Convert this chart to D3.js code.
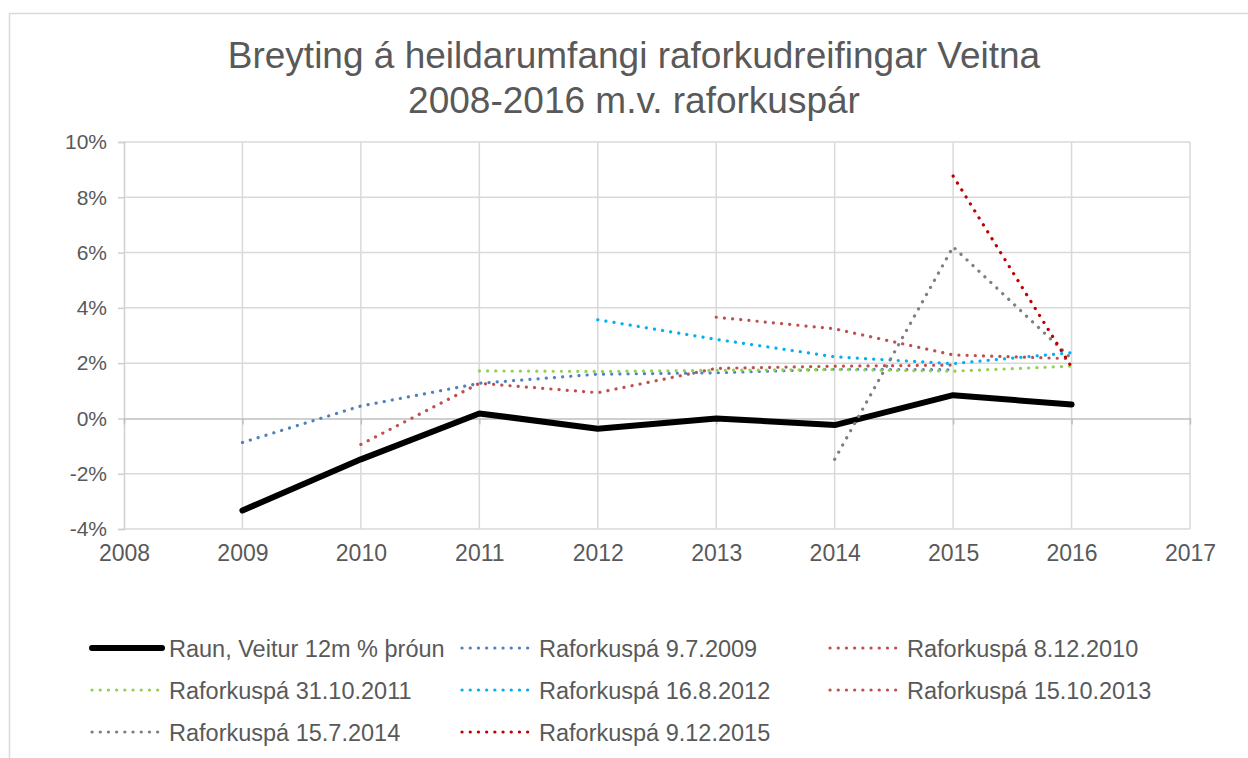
<!DOCTYPE html>
<html><head><meta charset="utf-8">
<script src="https://cdn.jsdelivr.net/npm/d3@7"></script>
<style>body{margin:0;background:#fff}svg{display:block}text{font-family:"Liberation Sans",Arial,sans-serif;fill:#595959}</style>
</head><body><svg id="c" width="1248" height="758"></svg>
<script>
const titleLines = ["Breyting á heildarumfangi raforkudreifingar Veitna", "2008-2016 m.v. raforkuspár"];
const xTicks = [2008, 2009, 2010, 2011, 2012, 2013, 2014, 2015, 2016, 2017];
const yTicks = [-0.04, -0.02, 0, 0.02, 0.04, 0.06, 0.08, 0.10];
const seriesNames = ["Raun, Veitur 12m % þróun", "Raforkuspá 9.7.2009", "Raforkuspá 8.12.2010", "Raforkuspá 31.10.2011", "Raforkuspá 16.8.2012", "Raforkuspá 15.10.2013", "Raforkuspá 15.7.2014", "Raforkuspá 9.12.2015"];
const seriesStart = [2009, 2009, 2010, 2011, 2012, 2013, 2014, 2015];
const raun = [-3.33, -1.48, 0.18, -0.37, 0.0, -0.24, 0.84, 0.50];
const spa2009 = [-0.87, 0.45, 1.27, 1.60, 1.65, 1.78, 1.76];
const spa2010 = [-0.94, 1.27, 0.93, 1.81, 1.89, 1.93];
const spa2011 = [1.72, 1.70, 1.74, 1.77, 1.71, 1.89];
const spa2012 = [3.57, 2.86, 2.23, 1.98, 2.38];
const spa2013 = [3.66, 3.24, 2.30, 2.16];
const spa2014 = [-1.48, 6.21, 2.16];
const spa2015 = [8.77, 1.86];
const seriesValues = [raun, spa2009, spa2010, spa2011, spa2012, spa2013, spa2014, spa2015];
const seriesColors = ["#000000", "#4F81BD", "#C0504D", "#92D050", "#00B0F0", "#C0504D", "#7F7F7F", "#C00000"];

const svg = d3.select("#c");
// chart frame
svg.append("rect").attr("x", 9.5).attr("y", 13.5).attr("width", 1300).attr("height", 900)
  .attr("fill", "none").attr("stroke", "#D9D9D9").attr("stroke-width", 1.5);

const x = d3.scaleLinear().domain([2008, 2017]).range([124, 1190]);
const y = d3.scaleLinear().domain([-0.04, 0.10]).range([529, 142]);
const pct = d => Math.round(d * 100) + "%";

// title
svg.append("text").attr("text-anchor", "middle").style("font-size", "37px")
  .selectAll("tspan").data(titleLines).join("tspan")
  .attr("x", 634).attr("y", (d, i) => 68 + i * 45).text(d => d);

// horizontal gridlines
svg.append("g").selectAll("line").data(yTicks.filter(d => d !== 0)).join("line")
  .attr("x1", x(2008)).attr("x2", x(2017)).attr("y1", d => y(d)).attr("y2", d => y(d))
  .attr("stroke", "#D9D9D9").attr("stroke-width", 1.5);
// vertical gridlines
svg.append("g").selectAll("line").data(xTicks.slice(1)).join("line")
  .attr("x1", d => x(d)).attr("x2", d => x(d)).attr("y1", y(0.10)).attr("y2", y(-0.04))
  .attr("stroke", "#D9D9D9").attr("stroke-width", 1.5);

// y axis
const yAxis = d3.axisLeft(y).tickValues(yTicks).tickFormat(pct).tickSize(6).tickPadding(11);
const gy = svg.append("g").attr("transform", `translate(${x(2008)},0)`).call(yAxis);
gy.select(".domain").attr("stroke", "#D0D0D0").attr("stroke-width", 1.5);
gy.selectAll(".tick line").attr("stroke", "#D0D0D0").attr("stroke-width", 1.5);
gy.selectAll(".tick text").style("font-size", "21px").attr("fill", "#595959").attr("font-family", null);

// x axis at 0
const xAxis = d3.axisBottom(x).tickValues(xTicks).tickFormat(d3.format("d")).tickSize(6).tickSizeOuter(0);
const gx = svg.append("g").attr("transform", `translate(0,${y(0)})`).call(xAxis);
gx.select(".domain").attr("stroke", "#BFBFBF").attr("stroke-width", 1.5);
gx.selectAll(".tick line").attr("stroke", "#BFBFBF").attr("stroke-width", 1.5);
gx.selectAll(".tick text").remove();
// x labels at bottom
svg.append("g").attr("transform", `translate(0,${y(-0.04)})`)
  .call(d3.axisBottom(x).tickValues(xTicks).tickFormat(d3.format("d")).tickSize(0).tickPadding(16))
  .call(g => { g.select(".domain").remove(); g.selectAll("text").style("font-size", "23px").attr("fill", "#595959").attr("font-family", null); });

// lines
const line = d3.line().x(d => x(d[0])).y(d => y(d[1] / 100));
seriesValues.forEach((vals, i) => {
  const pts = vals.map((v, j) => [seriesStart[i] + j, v]);
  const p = svg.append("path").datum(pts).attr("d", line).attr("fill", "none")
    .attr("stroke", seriesColors[i]).attr("stroke-linecap", "round").attr("stroke-linejoin", "round");
  if (i === 0) p.attr("stroke-width", 6);
  else p.attr("stroke-width", 3.2).attr("stroke-dasharray", "0.1 8.1");
});

// legend
const legPos = [[92, 648], [462, 648], [830, 648], [92, 690], [462, 690], [830, 690], [92, 732], [462, 732]];
const leg = svg.append("g");
seriesNames.forEach((name, i) => {
  const [lx, ly] = legPos[i];
  const l = leg.append("line").attr("x1", lx).attr("x2", lx + 70).attr("y1", ly).attr("y2", ly)
    .attr("stroke", seriesColors[i]).attr("stroke-linecap", "round");
  if (i === 0) l.attr("stroke-width", 6); else l.attr("stroke-width", 3.2).attr("stroke-dasharray", "0.1 8.1");
  leg.append("text").attr("x", lx + 77).attr("y", ly + 8.5).style("font-size", "23.5px").text(name);
});
</script></body></html>
